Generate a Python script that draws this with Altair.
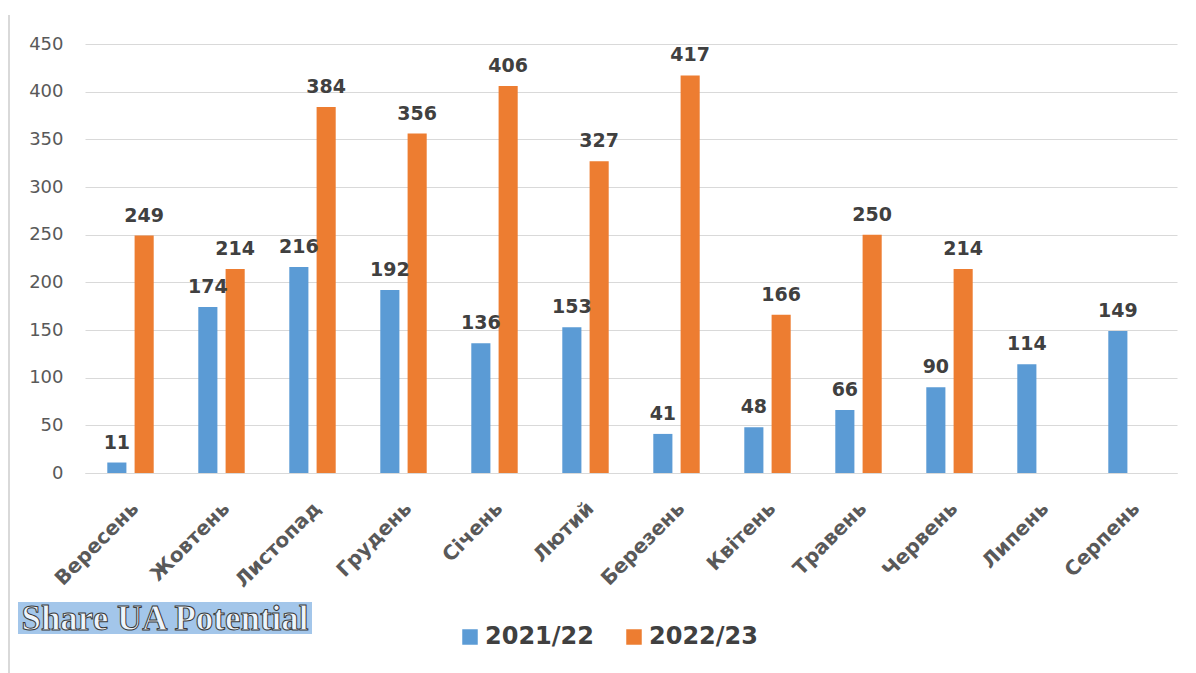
import altair as alt
import pandas as pd

months = ["Вересень", "Жовтень", "Листопад", "Грудень", "Січень", "Лютий",
          "Березень", "Квітень", "Травень", "Червень", "Липень", "Серпень"]
season_a = [11, 174, 216, 192, 136, 153, 41, 48, 66, 90, 114, 149]
season_b = [249, 214, 384, 356, 406, 327, 417, 166, 250, 214, None, None]
seasons = ["2021/22", "2022/23"]
colors = ["#5B9BD5", "#ED7D31"]
y_ticks = [0, 50, 100, 150, 200, 250, 300, 350, 400, 450]
watermark = "Share UA Potential"

rows = []
for m, a, b in zip(months, season_a, season_b):
    if a is not None:
        rows.append({"month": m, "season": seasons[0], "value": a})
    if b is not None:
        rows.append({"month": m, "season": seasons[1], "value": b})
df = pd.DataFrame(rows)

x_enc = alt.X("month:N", sort=months, title=None,
              scale=alt.Scale(paddingInner=0.49, paddingOuter=0.245),
              axis=alt.Axis(labelAngle=315, labelAlign="right", labelBaseline="top",
                            labelFont="DejaVu Sans", labelFontWeight="bold",
                            labelFontSize=20, labelColor="#595959", labelPadding=25,
                            labelOffset=-2,
                            ticks=False, domain=True, domainColor="#d9d9d9",
                            grid=False))
xoff = alt.XOffset("season:N", scale=alt.Scale(domain=seasons, paddingInner=0.3, paddingOuter=0))
y_enc = alt.Y("value:Q", title=None,
              scale=alt.Scale(domain=[0, 450], nice=False),
              axis=alt.Axis(values=y_ticks, grid=True, gridColor="#d9d9d9", domain=False,
                            ticks=False, labelFont="DejaVu Sans", labelFontSize=18,
                            labelColor="#595959", labelPadding=22))

base = alt.Chart(df)
bars = base.mark_bar().encode(
    x=x_enc, xOffset=xoff, y=y_enc,
    color=alt.Color("season:N", scale=alt.Scale(domain=seasons, range=colors),
                    legend=alt.Legend(title=None, orient="none", legendX=373, legendY=581,
                                      direction="horizontal", symbolType="square",
                                      symbolSize=240, symbolStrokeWidth=0,
                                      labelFont="DejaVu Sans", labelFontWeight="bold",
                                      labelFontSize=24, labelColor="#404040",
                                      columnPadding=28, symbolOffset=0, labelOffset=3)),
)
labels = base.mark_text(font="DejaVu Sans", fontSize=19, fontWeight="bold",
                        color="#404040", baseline="alphabetic", dy=-14).encode(
    x=x_enc, xOffset=xoff, y=y_enc, text="value:Q"
)

wm_df = pd.DataFrame({"t": [watermark]})
wm_box = alt.Chart(wm_df).mark_rect(color="#a3c6ea").encode(
    x=alt.value(-67), x2=alt.value(227), y=alt.value(558), y2=alt.value(590)
)
wm_text = alt.Chart(wm_df).mark_text(font="Liberation Serif", fontSize=35, fontWeight="bold",
                                     fill="#eef4fb", stroke="#3a3a3a", strokeWidth=1,
                                     align="center", baseline="middle").encode(
    x=alt.value(80), y=alt.value(575), text="t:N"
)
border = alt.Chart(wm_df).mark_rule(color="#d9d9d9", strokeWidth=2).encode(
    x=alt.value(-76), y=alt.value(-29), y2=alt.value(629)
)

chart = alt.layer(bars, labels, wm_box, wm_text, border).properties(
    width=1092, height=429,
    padding={"left": 85, "top": 44, "right": 19, "bottom": 200},
    autosize=alt.AutoSizeParams(type="none"),
    background="white",
).configure_view(stroke=None)

chart.save("out.html", embed_options={"renderer": "svg", "actions": False})
